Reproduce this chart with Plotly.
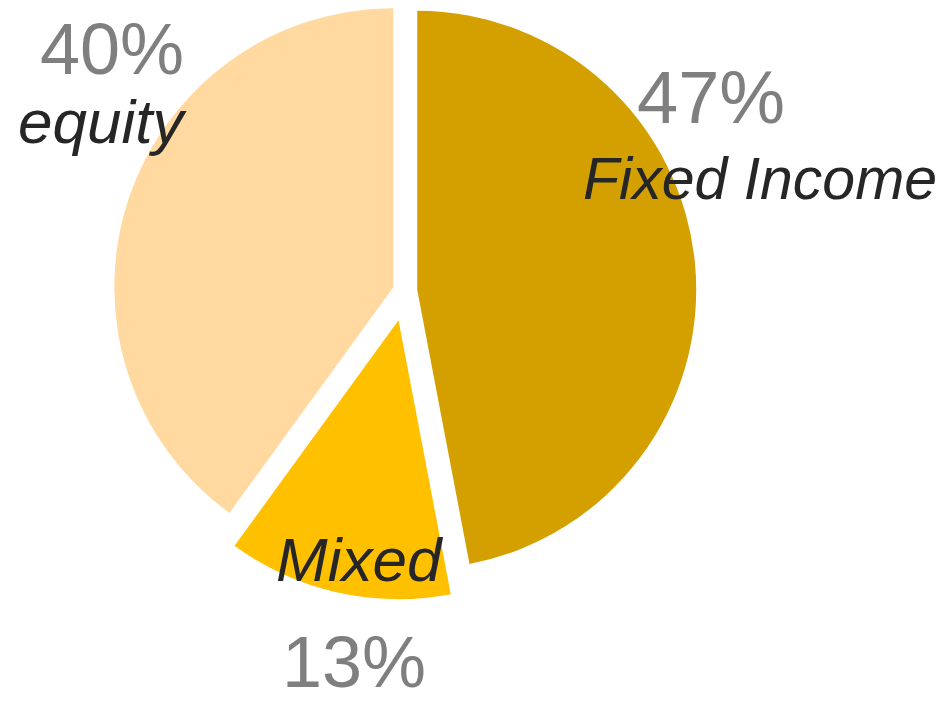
import math
import plotly.graph_objects as go

categories = ["Fixed Income", "Mixed", "equity"]
values = [47, 13, 40]
pct_labels = ["47%", "13%", "40%"]
colors = ["#D4A000", "#FFC000", "#FFD9A0"]
# explode distance of each slice (fraction of radius)
pulls = [0.044, 0.107, 0.044]

W, H = 946, 704
CX, CY, R = 397.0, 283.0, 279.0  # pixel centre/radius of unexploded pie

fig = go.Figure()
total = sum(values)
start = 0.0
for i, cat in enumerate(categories):
    frac = values[i] / total
    mid = (start + frac / 2) * 2 * math.pi
    start += frac
    cx = CX + math.sin(mid) * pulls[i] * R
    cy = CY - math.cos(mid) * pulls[i] * R
    xd = [(cx - R) / W, (cx + R) / W]
    yd = [(H - cy - R) / H, (H - cy + R) / H]
    cols = ["rgba(0,0,0,0)"] * len(categories)
    cols[i] = colors[i]
    fig.add_trace(go.Pie(
        labels=categories, values=values, sort=False, direction="clockwise",
        rotation=0, textinfo="none", hoverinfo="skip",
        marker=dict(colors=cols, line=dict(width=0)),
        domain=dict(x=xd, y=yd), showlegend=False,
    ))

FONT = "Liberation Sans Narrow, Arial Narrow, Liberation Sans, Arial, sans-serif"
pct_pos = {"47%": (703, 90), "13%": (346, 654), "40%": (104, 41)}
pct_size = {"47%": 74, "13%": 72, "40%": 72}
lab_pos = {"Fixed Income": (752, 171), "Mixed": (352, 551), "equity": (94, 113)}
lab_size = {"Fixed Income": 59, "Mixed": 62, "equity": 62}
for i, cat in enumerate(categories):
    px, py = pct_pos[pct_labels[i]]
    fig.add_annotation(x=px / W, y=1 - py / H, xref="paper", yref="paper",
                       text=pct_labels[i], showarrow=False,
                       xanchor="center", yanchor="middle",
                       font=dict(family=FONT, size=pct_size[pct_labels[i]], color="#7F7F7F"))
    lx, ly = lab_pos[cat]
    fig.add_annotation(x=lx / W, y=1 - ly / H, xref="paper", yref="paper",
                       text=cat, showarrow=False,
                       xanchor="center", yanchor="middle",
                       font=dict(family=FONT, size=lab_size[cat], color="#262626", style="italic"))

fig.update_layout(width=W, height=H, margin=dict(l=0, r=0, t=0, b=0),
                  paper_bgcolor="white", plot_bgcolor="white")
fig.write_html("out.html")
